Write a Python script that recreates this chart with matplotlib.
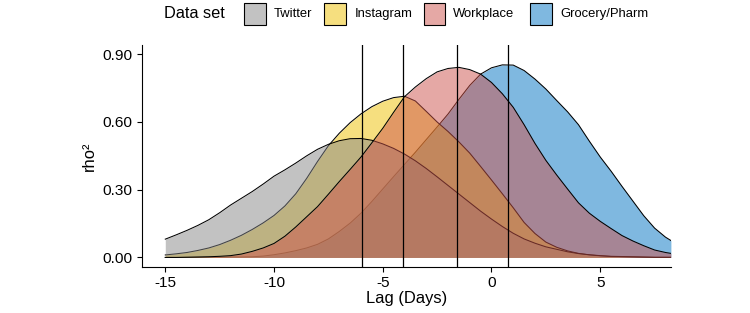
import matplotlib
matplotlib.use("Agg")
import matplotlib.pyplot as plt
from matplotlib.patches import Rectangle

plt.rcParams['font.family'] = ['Liberation Sans', 'DejaVu Sans']
plt.rcParams['axes.unicode_minus'] = False

# ---- data ----
lags = [-15, -14.5, -14, -13.5, -13, -12.5, -12, -11.5, -11, -10.5, -10, -9.5,
        -9, -8.5, -8, -7.5, -7, -6.5, -6, -5.5, -5, -4.5, -4, -3.5, -3, -2.5,
        -2, -1.5, -1, -0.5, 0, 0.5, 1, 1.5, 2, 2.5, 3, 3.5, 4, 4.5, 5, 5.5,
        6, 6.5, 7, 7.5, 8, 8.25]
twitter = [0.081, 0.100, 0.120, 0.142, 0.167, 0.198, 0.232, 0.262, 0.292, 0.325,
           0.360, 0.388, 0.418, 0.450, 0.479, 0.501, 0.517, 0.526, 0.527, 0.519,
           0.503, 0.483, 0.458, 0.428, 0.394, 0.357, 0.319, 0.281, 0.243, 0.205,
           0.170, 0.137, 0.107, 0.082, 0.063, 0.047, 0.036, 0.025, 0.017, 0.012,
           0.008, 0.005, 0.004, 0.003, 0.002, 0.001, 0.001, 0.001]
instagram = [0.011, 0.016, 0.022, 0.031, 0.042, 0.057, 0.076, 0.098, 0.124, 0.153,
             0.186, 0.228, 0.282, 0.350, 0.425, 0.495, 0.550, 0.597, 0.636, 0.668,
             0.692, 0.708, 0.714, 0.693, 0.647, 0.600, 0.558, 0.512, 0.462, 0.403,
             0.343, 0.282, 0.220, 0.155, 0.106, 0.068, 0.045, 0.029, 0.018, 0.011,
             0.007, 0.004, 0.003, 0.002, 0.001, 0.000, 0.000, 0.000]
workplace = [0.000, 0.000, 0.001, 0.002, 0.003, 0.005, 0.008, 0.015, 0.027, 0.042,
             0.062, 0.094, 0.135, 0.180, 0.225, 0.280, 0.336, 0.390, 0.445, 0.508,
             0.572, 0.643, 0.712, 0.755, 0.792, 0.822, 0.837, 0.842, 0.832, 0.812,
             0.775, 0.725, 0.665, 0.588, 0.505, 0.430, 0.365, 0.303, 0.242, 0.196,
             0.160, 0.128, 0.097, 0.073, 0.052, 0.033, 0.022, 0.018]
grocery = [0.000, 0.000, 0.000, 0.000, 0.001, 0.001, 0.002, 0.002, 0.003, 0.006,
           0.012, 0.020, 0.030, 0.042, 0.058, 0.082, 0.115, 0.152, 0.196, 0.248,
           0.303, 0.358, 0.412, 0.466, 0.522, 0.578, 0.635, 0.700, 0.762, 0.812,
           0.840, 0.853, 0.852, 0.828, 0.790, 0.746, 0.695, 0.645, 0.588, 0.515,
           0.445, 0.382, 0.315, 0.250, 0.185, 0.130, 0.090, 0.075]
peak_lags = [-5.96, -4.06, -1.60, 0.75]

legend_labels = ["Twitter", "Instagram", "Workplace", "Grocery/Pharm"]
colors = {"Twitter": "#868686", "Instagram": "#EFC000",
          "Workplace": "#CD534C", "Grocery/Pharm": "#0073C2"}
series = {"Twitter": twitter, "Instagram": instagram,
          "Workplace": workplace, "Grocery/Pharm": grocery}
draw_order = ["Grocery/Pharm", "Instagram", "Twitter", "Workplace"]

W, H = 750, 313
fig = plt.figure(figsize=(W / 100, H / 100), dpi=100)
left, right, top, bottom = 141.8, 670.9, 45.0, 266.7
ax = fig.add_axes([left / W, (H - bottom) / H, (right - left) / W, (bottom - top) / H])

for z, name in enumerate(draw_order):
    ax.fill_between(lags, 0, series[name], color=colors[name], alpha=0.5,
                    lw=0, zorder=2 + 2 * z)
    ax.plot(lags, series[name], color="black", lw=0.75, zorder=3 + 2 * z)

for p in peak_lags:
    ax.axvline(p, color="black", lw=0.9, zorder=20)

ax.set_xlim(-16.08, 8.25)
ax.set_ylim(-0.041, 0.941)
ax.set_xticks([-15, -10, -5, 0, 5])
ax.set_yticks([0.0, 0.3, 0.6, 0.9])
ax.set_yticklabels(["0.00", "0.30", "0.60", "0.90"])
for s in ["top", "right"]:
    ax.spines[s].set_visible(False)
for s in ["left", "bottom"]:
    ax.spines[s].set_linewidth(0.8)
ax.tick_params(axis="both", length=3.6, width=0.8, labelsize=11.1,
               colors="black", pad=3)
ax.set_xlabel("Lag (Days)", fontsize=11.9, labelpad=1)
ax.set_ylabel("rho²", fontsize=11.9, labelpad=4)

# ---- legend (top) ----
fig.text(164 / W, 1 - 14 / H, "Data set", fontsize=11.8, va="center", ha="left")
key_x = [244, 324, 424, 530]
lab_x = [274, 355, 453, 560]
for kx, lx, name in zip(key_x, lab_x, legend_labels):
    fig.add_artist(Rectangle((kx / W, 1 - 25 / H), 21.5 / W, 22 / H,
                             transform=fig.transFigure, facecolor=colors[name],
                             alpha=0.5, lw=0))
    fig.add_artist(Rectangle((kx / W, 1 - 25 / H), 21.5 / W, 22 / H,
                             transform=fig.transFigure, facecolor="none",
                             edgecolor="black", lw=0.8))
    fig.text(lx / W, 1 - 14 / H, name, fontsize=9.4, va="center", ha="left")

fig.savefig("out.png", dpi=100)
